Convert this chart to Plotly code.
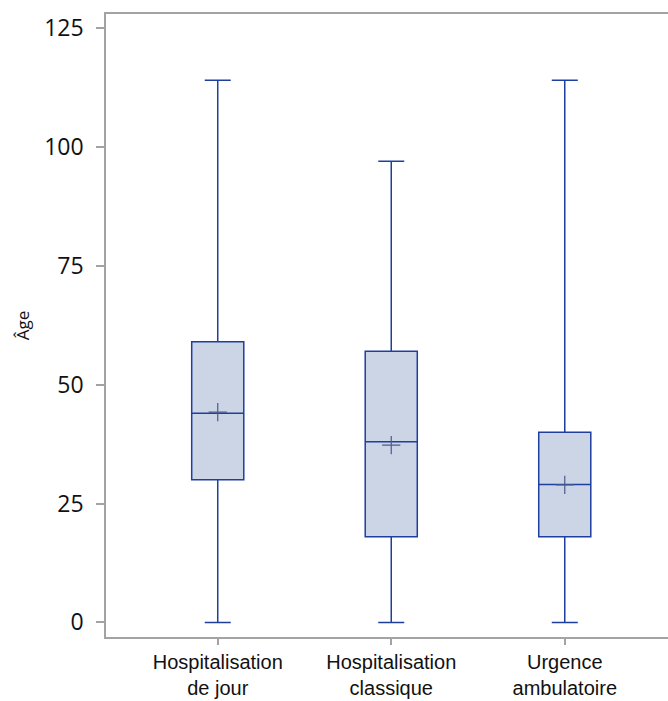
import plotly.graph_objects as go

categories = ["Hospitalisation<br>de jour", "Hospitalisation<br>classique", "Urgence<br>ambulatoire"]
q1_vals = [30, 18, 18]
median_vals = [44, 38, 29]
q3_vals = [59, 57, 40]
lower_vals = [0, 0, 0]
upper_vals = [114, 97, 114]
mean_vals = [44.2, 37.3, 28.9]
y_ticks = [0, 25, 50, 75, 100, 125]

LINE = "#1f3f9e"
FILL = "#cbd5e6"
AXIS = "#a3a3a3"

fig = go.Figure()
fig.add_trace(go.Box(
    x=categories,
    q1=q1_vals, median=median_vals, q3=q3_vals,
    lowerfence=lower_vals, upperfence=upper_vals,
    width=0.3, whiskerwidth=0.5,
    line=dict(color=LINE, width=1.5),
    fillcolor=FILL,
    boxpoints=False,
    showlegend=False,
    hoverinfo="skip",
))
fig.add_trace(go.Scatter(
    x=categories, y=mean_vals, mode="markers",
    marker=dict(symbol="cross-thin", size=13, color="#4a5b8e",
                line=dict(color="#4a5b8e", width=1.2)),
    showlegend=False, hoverinfo="skip",
))

fig.update_layout(
    width=668, height=701,
    margin=dict(l=106, r=0, t=14, b=64),
    plot_bgcolor="white", paper_bgcolor="white",
    xaxis=dict(
        type="category", range=[-0.644, 2.595],
        showline=True, linecolor=AXIS, linewidth=1.5, mirror=True,
        ticks="outside", ticklen=6, tickcolor=AXIS, tickwidth=1.5,
        showgrid=False, zeroline=False,
        tickfont=dict(family="Liberation Sans", size=20, color="#111"),
        ticklabelstandoff=0,
    ),
    yaxis=dict(
        range=[-3.07, 127.94], tickvals=y_ticks,
        showline=True, linecolor=AXIS, linewidth=1.5, mirror=False,
        ticks="outside", ticklen=8, tickcolor=AXIS, tickwidth=1.5,
        showgrid=False, zeroline=False,
        tickfont=dict(family="Open Sans", size=23, color="#111"),
        ticklabelstandoff=8,
        title=dict(text="Âge", font=dict(family="Open Sans", size=17, color="#111"), standoff=10),
    ),
)

post = (
    "var st=document.createElement('style');"
    "st.textContent='html,body{margin:0;padding:0;overflow:hidden;}';"
    "document.head.appendChild(st);"
)
fig.write_html("out.html", post_script=post, config={"displayModeBar": False})
